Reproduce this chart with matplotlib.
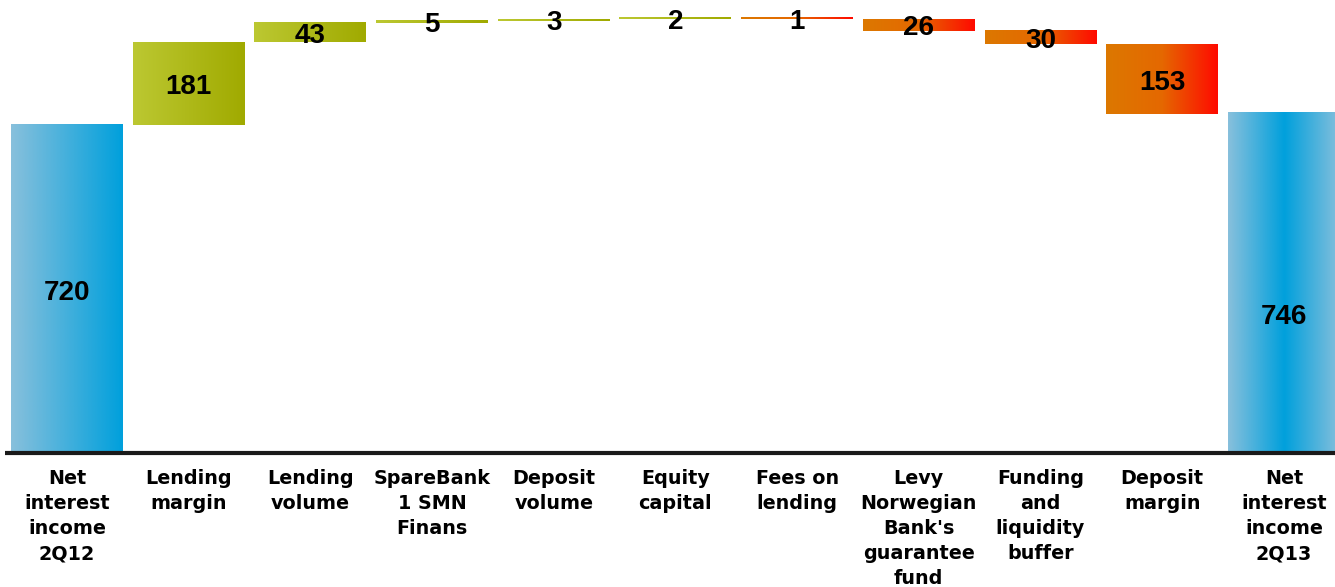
import numpy as np
import matplotlib.pyplot as plt
from matplotlib.colors import LinearSegmentedColormap
from matplotlib.transforms import blended_transform_factory

plt.rcParams["font.family"] = ["Liberation Sans", "DejaVu Sans"]

# 数据
categories = [
    "Net\ninterest\nincome\n2Q12",
    "Lending\nmargin",
    "Lending\nvolume",
    "SpareBank\n1 SMN\nFinans",
    "Deposit\nvolume",
    "Equity\ncapital",
    "Fees on\nlending",
    "Levy\nNorwegian\nBank's\nguarantee\nfund",
    "Funding\nand\nliquidity\nbuffer",
    "Deposit\nmargin",
    "Net\ninterest\nincome\n2Q13",
]
start_value = 720
changes = [181, 43, 5, 3, 2, -1, -26, -30, -153]
end_value = 746

# 渐变色
blue_start = LinearSegmentedColormap.from_list("b1", ["#88c0dc", "#00a0dc"])
blue_end = LinearSegmentedColormap.from_list("b2", ["#88c0dc", "#00a0dc", "#88c0dc"])
green = LinearSegmentedColormap.from_list("g", ["#bcc832", "#a0aa00"])
red = LinearSegmentedColormap.from_list("r", ["#dc7800", "#e56800", "#ff0a00"])

fig = plt.figure(figsize=(13.35, 5.87))
ax = fig.add_axes([0, 0.228, 1, 0.772])

width = 0.92
gradient = np.linspace(0, 1, 256).reshape(1, -1)


def draw_bar(x, bottom, height, cmap):
    """用渐变图像画一个柱子"""
    h = max(height, 4)  # 太薄的柱子至少画成一条细线
    ax.imshow(gradient, cmap=cmap, aspect="auto", interpolation="bicubic",
              extent=[x - width / 2, x + width / 2, bottom, bottom + h], zorder=2)


# 起始柱
bars = [(0, start_value, blue_start)]
level = start_value
for v in changes:
    if v >= 0:
        bars.append((level, v, green))
    else:
        bars.append((level + v, -v, red))
    level += v
bars.append((0, end_value, blue_end))

for i, (bottom, height, cmap) in enumerate(bars):
    draw_bar(i, bottom, height, cmap)
    label = str(height)
    y = bottom + height / 2
    if i == len(bars) - 1:
        y = bottom + height * 0.41  # 最后一个标签偏下
    ax.annotate(label, xy=(i, y), xytext=(0, -2.5), textcoords="offset points",
                ha="center", va="center", fontsize=20, fontweight="bold",
                color="black", zorder=3)

# 分类标签（宽一点的字体）
trans = blended_transform_factory(ax.transData, ax.transAxes)
for i, name in enumerate(categories):
    ax.text(i, -0.036, name, transform=trans, ha="center", va="top",
            fontsize=13.8, fontweight="bold", linespacing=1.4,
            family="DejaVu Sans")

ax.set_xlim(-0.55, 10.42)
ax.set_ylim(0, 994)
ax.hlines(0, -0.51, 10.6, color="#1a1a1a", lw=3, zorder=4, clip_on=False)
ax.axis("off")

fig.savefig("out.png", dpi=100)
